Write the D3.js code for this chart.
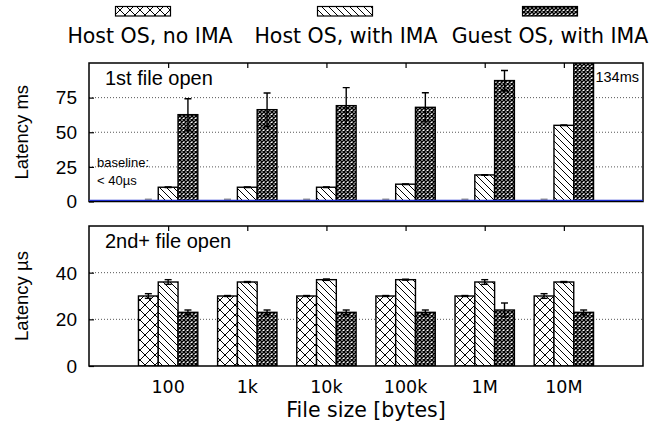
<!DOCTYPE html>
<html>
<head>
<meta charset="utf-8">
<script src="https://cdn.jsdelivr.net/npm/d3@7"></script>
<style>
	body { margin: 0; background: #fff; }
	svg { display: block; }
</style>
</head>
<body>
<div id="chart"></div>
<script>
// file open latency, two panels
///

const sizes = ['100', '1k', '10k', '100k', '1M', '10M'];
const series = ['Host OS, no IMA', 'Host OS, with IMA', 'Guest OS, with IMA'];

// 1st file open, ms
const firstNoIma = [0.03, 0.03, 0.03, 0.03, 0.03, 0.03];
const firstWithIma = [10.3, 10.3, 10.3, 12.5, 19.2, 55];
const firstGuest = [62.7, 66.3, 69.2, 68, 87.3, 134];
const firstNoImaErr = [0.01, 0.01, 0.01, 0.01, 0.01, 0.01];
const firstWithImaErr = [0.2, 0.2, 0.2, 0.2, 0.2, 0.2];
const firstGuestErr = [11.5, 12, 13, 10.5, 7.3, 0];

// 2nd+ file open, µs
const nextNoIma = [30, 30, 30, 30, 30, 30];
const nextWithIma = [36, 36, 37, 37, 36, 36];
const nextGuest = [23, 23, 23, 23, 24, 23];
const nextNoImaErr = [1, 0.2, 0.2, 0.2, 0.2, 1];
const nextWithImaErr = [1, 0.2, 0.3, 0.2, 1, 0.2];
const nextGuestErr = [1, 1, 1, 1, 3, 1];

const topTicks = [0, 25, 50, 75];
const botTicks = [0, 20, 40];
const baselineMs = 0.8;

const w = 662, h = 427;

let svg = d3.select('#chart').append('svg')
	.attr('width', w)
	.attr('height', h);

let defs = svg.append('defs');

// hatch patterns
function addPattern(id, size, d, sw) {
	let p = defs.append('pattern')
		.attr('id', id)
		.attr('patternUnits', 'userSpaceOnUse')
		.attr('width', size)
		.attr('height', size);
	p.append('rect').attr('width', size).attr('height', size).attr('fill', '#fff');
	p.append('path').attr('d', d).attr('stroke', '#000').attr('stroke-width', sw).attr('fill', 'none');
}
addPattern('pat-cross', 10, 'M0,0L10,10M10,0L0,10', 1);
addPattern('pat-diag', 7, 'M0,0L7,7M-2,5L2,9M5,-2L9,2', 1);
addPattern('pat-dense', 4, 'M0,0L4,4M4,0L0,4', 1.45);
const patterns = ['url(#pat-cross)', 'url(#pat-diag)', 'url(#pat-dense)'];

const x = d3.scaleLinear().domain([-1, 6]).range([89, 643]);
const bw = (x(1) - x(0)) * 0.25;

function drawPanel(opts) {
	const y = opts.y;
	const y0 = y.range()[0], y1 = y.range()[1];
	let g = svg.append('g');

	defs.append('clipPath').attr('id', opts.id + '-clip')
		.append('rect')
		.attr('x', x.range()[0]).attr('y', y1)
		.attr('width', x.range()[1] - x.range()[0]).attr('height', y0 - y1);

	// grid lines
	g.selectAll('.grid')
		.data(opts.ticks.filter(d => d > 0))
		.enter().append('line')
		.attr('x1', x.range()[0]).attr('x2', x.range()[1])
		.attr('y1', d => y(d)).attr('y2', d => y(d))
		.attr('stroke', '#444').attr('stroke-width', 0.9)
		.attr('stroke-dasharray', '1,2');

	let bars = g.append('g').attr('clip-path', 'url(#' + opts.id + '-clip)');
	opts.values.forEach(function(vals, s) {
		const errs = opts.errors[s];
		const off = (s - 1) * bw - bw / 2;
		bars.selectAll('.bar-' + s)
			.data(vals)
			.enter().append('rect')
			.attr('x', (d, i) => x(i) + off)
			.attr('y', d => y(d))
			.attr('width', bw)
			.attr('height', d => y0 - y(d))
			.attr('fill', patterns[s])
			.attr('stroke', '#000')
			.attr('stroke-width', 1.4);

		// error bars
		const grey = opts.grey && s == 0;
		let eb = bars.selectAll('.err-' + s)
			.data(vals.map((v, i) => [i, v, errs[i]]).filter(d => d[2] > 0))
			.enter().append('g')
			.attr('stroke', grey ? '#999' : '#000').attr('stroke-width', grey ? 3 : 1.4);
		eb.append('line')
			.attr('x1', d => x(d[0]) + off + bw / 2).attr('x2', d => x(d[0]) + off + bw / 2)
			.attr('y1', d => y(d[1] - d[2])).attr('y2', d => y(d[1] + d[2]));
		eb.append('line')
			.attr('x1', d => x(d[0]) + off + bw / 2 - 3.5).attr('x2', d => x(d[0]) + off + bw / 2 + 3.5)
			.attr('y1', d => y(d[1] + d[2]) - (grey ? 1.5 : 0)).attr('y2', d => y(d[1] + d[2]) - (grey ? 1.5 : 0));
		eb.append('line')
			.attr('x1', d => x(d[0]) + off + bw / 2 - 3.5).attr('x2', d => x(d[0]) + off + bw / 2 + 3.5)
			.attr('y1', d => y(d[1] - d[2])).attr('y2', d => y(d[1] - d[2]));
	});

	// inward ticks
	g.append('g')
		.attr('transform', 'translate(' + x.range()[0] + ',0)')
		.call(d3.axisRight(y).tickValues(opts.ticks).tickSize(5).tickFormat(''))
		.call(a => a.select('.domain').remove());
	g.append('g')
		.attr('transform', 'translate(0,' + y1 + ')')
		.call(d3.axisBottom(x).tickValues(d3.range(sizes.length)).tickSize(5).tickFormat(''))
		.call(a => a.select('.domain').remove());
	g.selectAll('.tick line').attr('stroke', '#000').attr('stroke-width', 1.2);

	// tick labels
	g.selectAll('.ylab')
		.data(opts.ticks)
		.enter().append('text')
		.attr('x', 77).attr('y', d => y(d)).attr('dy', '0.36em')
		.attr('text-anchor', 'end')
		.style('font-family', 'Liberation Sans, Arial, sans-serif')
		.style('font-size', '19px')
		.text(d => d);

	// frame
	g.append('rect')
		.attr('x', x.range()[0]).attr('y', y1)
		.attr('width', x.range()[1] - x.range()[0]).attr('height', y0 - y1)
		.attr('fill', 'none').attr('stroke', '#000').attr('stroke-width', 1.5);

	g.append('text')
		.attr('x', 105).attr('y', y1 + 22)
		.style('font-family', 'Liberation Sans, Arial, sans-serif')
		.style('font-size', '20px')
		.text(opts.title);

	g.append('text')
		.attr('transform', 'translate(28,' + ((y0 + y1) / 2) + ') rotate(-90)')
		.attr('text-anchor', 'middle')
		.style('font-family', 'Liberation Sans, Arial, sans-serif')
		.style('font-size', '18.5px')
		.text(opts.label);

	return g;
}

const yTop = d3.scaleLinear().domain([0, 100]).range([201.5, 63]);
const yBot = d3.scaleLinear().domain([0, 60]).range([366, 226]);

let gTop = drawPanel({
	id: 'top', y: yTop, ticks: topTicks, title: '1st file open', label: 'Latency ms', grey: true,
	values: [firstNoIma, firstWithIma, firstGuest],
	errors: [firstNoImaErr, firstWithImaErr, firstGuestErr]
});

// baseline line (blue)
gTop.append('line')
	.attr('x1', x.range()[0]).attr('x2', x.range()[1])
	.attr('y1', yTop(baselineMs)).attr('y2', yTop(baselineMs))
	.attr('stroke', '#1f2fd0').attr('stroke-width', 1.3);

gTop.append('text')
	.attr('x', 97).attr('y', 167)
	.style('font-family', 'Liberation Sans, Arial, sans-serif').style('font-size', '13px')
	.text('baseline:');
gTop.append('text')
	.attr('x', 97).attr('y', 185)
	.style('font-family', 'Liberation Sans, Arial, sans-serif').style('font-size', '13px')
	.text('< 40µs');
gTop.append('text')
	.attr('x', 639).attr('y', 82)
	.attr('text-anchor', 'end')
	.style('font-family', 'Liberation Sans, Arial, sans-serif').style('font-size', '14.5px')
	.text(firstGuest[5] + 'ms');

drawPanel({
	id: 'bot', y: yBot, ticks: botTicks, title: '2nd+ file open', label: 'Latency µs', grey: false,
	values: [nextNoIma, nextWithIma, nextGuest],
	errors: [nextNoImaErr, nextWithImaErr, nextGuestErr]
});

// x labels
svg.selectAll('.xlab')
	.data(sizes)
	.enter().append('text')
	.attr('x', (d, i) => x(i)).attr('y', 393)
	.attr('text-anchor', 'middle')
	.style('font-family', 'DejaVu Sans, Verdana, sans-serif')
	.style('font-size', '17.5px')
	.text(d => d);

svg.append('text')
	.attr('x', x(2.5)).attr('y', 416.5)
	.attr('text-anchor', 'middle')
	.style('font-family', 'DejaVu Sans, Verdana, sans-serif')
	.style('font-size', '20.5px')
	.text('File size [bytes]');

// legend
const legendX = [143, 345, 550];
const textX = [150, 346, 550];
let leg = svg.append('g').selectAll('g')
	.data(series)
	.enter().append('g');
leg.append('rect')
	.attr('x', (d, i) => legendX[i] - 27.5).attr('y', 6.5)
	.attr('width', 55).attr('height', 9.5)
	.attr('fill', (d, i) => patterns[i])
	.attr('stroke', '#000').attr('stroke-width', 1.2);
leg.append('text')
	.attr('x', (d, i) => textX[i]).attr('y', 42.5)
	.attr('text-anchor', 'middle')
	.style('font-family', 'DejaVu Sans, Verdana, sans-serif')
	.style('font-size', '20.5px')
	.text(d => d);
</script>
</body>
</html>
